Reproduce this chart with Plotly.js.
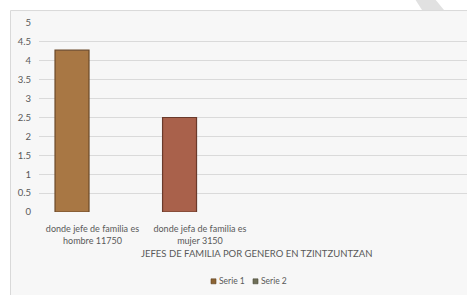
<!DOCTYPE html>
<html>
<head>
<meta charset="utf-8">
<script src="https://cdn.plot.ly/plotly-3.0.1.min.js"></script>
<style>html,body{margin:0;padding:0;background:#fff;}#chart{width:467px;height:295px;}</style>
</head>
<body>
<div id="chart"></div>
<script>
// Data
const categoryPositions = [0, 1];
const categoryLabels = ["donde jefe de familia es<br>hombre 11750", "donde jefa de familia es<br>mujer 3150"];
const serie1Values = [4.28, 2.5];
const serie2Values = [null, null];
const serieNames = ["Serie 1", "Serie 2"];
const serie1Colors = ["#a87744", "#a9614b"];
const serie1Borders = ["#6b4828", "#6a3a2b"];
const legendColors = ["#8c6434", "#6f6f58"];
const xTitle = "JEFES DE FAMILIA POR GENERO EN TZINTZUNTZAN";

// pixel -> paper helpers (plot area: left 39, right 467, top 23, bottom 212.5)
const L = 39, W = 428, B = 212.5, H = 189.5;
const px = x => (x - L) / W;
const py = y => (B - y) / H;

const textColor = "#595959";
const font = "Lato, 'Open Sans', sans-serif";

const traces = [
  {
    type: "bar", name: serieNames[0], x: categoryPositions, y: serie1Values,
    width: 0.316, offset: -0.348,
    marker: {color: serie1Colors, line: {color: serie1Borders, width: 1.2}},
    hoverinfo: "none", showlegend: false
  },
  {
    type: "bar", name: serieNames[1], x: categoryPositions, y: serie2Values,
    width: 0.316, offset: 0.032,
    marker: {color: legendColors[1], line: {color: "#4a4a38", width: 1}},
    hoverinfo: "none", showlegend: false
  }
];

// manual legend (small squares + text)
const legendItems = [
  {sq: 211, tx: 217, name: serieNames[0], color: legendColors[0], border: "#5e4220"},
  {sq: 253, tx: 259, name: serieNames[1], color: legendColors[1], border: "#4a4a38"}
];
const legendY = 282;

const shapes = [
  {type: "rect", xref: "paper", yref: "paper", layer: "below",
   x0: px(10.5), x1: px(472), y0: py(300), y1: py(10.5),
   fillcolor: "#f7f7f7", line: {color: "#d9d9d9", width: 1}},
  {type: "path", xref: "paper", yref: "paper", layer: "above",
   path: `M ${px(415)} ${py(-1)} L ${px(435)} ${py(-1)} L ${px(444)} ${py(10)} L ${px(422)} ${py(10)} Z`,
   fillcolor: "#e1e1e1", line: {width: 0}}
];
const annotations = [
  {xref: "paper", yref: "paper", x: px(256), y: py(254), xanchor: "center", yanchor: "middle",
   text: xTitle, showarrow: false, font: {size: 9.5, color: textColor}}
];
legendItems.forEach(it => {
  shapes.push({type: "rect", xref: "paper", yref: "paper", layer: "above",
    x0: px(it.sq), x1: px(it.sq + 5), y0: py(legendY + 2.5), y1: py(legendY - 2.5),
    fillcolor: it.color, line: {color: it.border, width: 0.6}});
  annotations.push({xref: "paper", yref: "paper", x: px(it.tx), y: py(legendY),
    xanchor: "left", yanchor: "middle", text: it.name, showarrow: false,
    font: {size: 8.5, color: textColor}});
});

const layout = {
  width: 467, height: 295,
  margin: {l: 39, r: 0, t: 23, b: 82.5, pad: 0},
  paper_bgcolor: "#ffffff",
  plot_bgcolor: "rgba(0,0,0,0)",
  barmode: "overlay",
  font: {family: font, color: textColor, size: 9.5},
  showlegend: false,
  xaxis: {
    range: [-0.497, 3.483], tickvals: categoryPositions, ticktext: categoryLabels,
    showgrid: false, zeroline: false, showline: false, ticks: "",
    tickfont: {size: 9, color: textColor}, ticklabelstandoff: 10, fixedrange: true
  },
  yaxis: {
    range: [0, 5], dtick: 0.5, tick0: 0, showgrid: true, gridcolor: "#dadada", gridwidth: 1,
    zeroline: false, showline: false, ticks: "",
    tickfont: {size: 9.5, color: textColor}, ticklabelstandoff: 7, fixedrange: true
  },
  shapes: shapes,
  annotations: annotations
};

Plotly.newPlot("chart", traces, layout, {displayModeBar: false, staticPlot: true});
</script>
</body>
</html>
